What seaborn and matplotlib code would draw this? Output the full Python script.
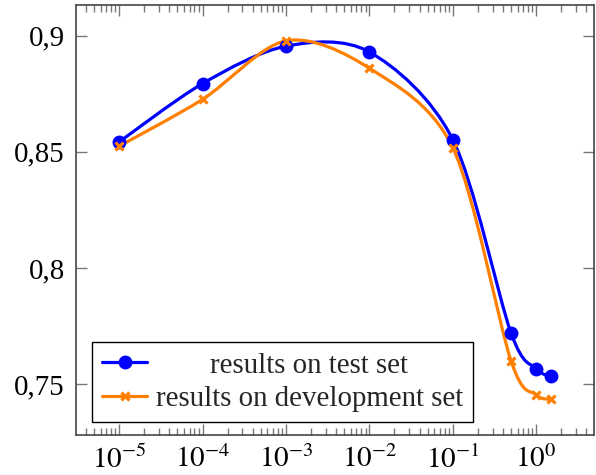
import numpy as np
import matplotlib
matplotlib.use("Agg")
import matplotlib.pyplot as plt
from matplotlib.path import Path
from matplotlib.patches import PathPatch
from matplotlib.lines import Line2D
from matplotlib.ticker import FixedLocator, FixedFormatter, LogLocator, NullFormatter
import seaborn as sns

# data
lam = [1e-5, 1e-4, 1e-3, 1e-2, 1e-1, 0.5, 1.0, 1.5]
test_acc = [0.8542, 0.8794, 0.8955, 0.8930, 0.8553, 0.7720, 0.7566, 0.7533]
dev_acc = [0.8525, 0.8726, 0.8978, 0.8860, 0.8518, 0.7600, 0.7454, 0.7435]
series_names = ["results on test set", "results on development set"]

ytick_vals = [0.75, 0.8, 0.85, 0.9]
ytick_labels = ["0,75", "0,8", "0,85", "0,9"]
xtick_vals = [1e-5, 1e-4, 1e-3, 1e-2, 1e-1, 1e0]
xtick_labels = [r"$10^{-5}$", r"$10^{-4}$", r"$10^{-3}$", r"$10^{-2}$", r"$10^{-1}$", r"$10^{0}$"]

BLUE = "#0000ff"
ORANGE = "#ff8000"
FS = 20.8

sns.set_theme(style="ticks")
plt.rcParams["font.family"] = ["Liberation Serif", "DejaVu Serif"]
plt.rcParams["mathtext.fontset"] = "stix"

fig = plt.figure(figsize=(5.96, 4.75), dpi=100)
ax = fig.add_axes([76 / 596, 40 / 475, 518 / 596, 430 / 475])
ax.set_xscale("log")


def enlarged(lo, hi, frac=0.1):
    r = hi - lo
    return lo - frac * r, hi + frac * r


lx0, lx1 = enlarged(np.log10(min(lam)), np.log10(max(lam)))
ax.set_xlim(10 ** lx0, 10 ** lx1)
allv = test_acc + dev_acc
ax.set_ylim(*enlarged(min(allv), max(allv)))


def smooth_path(xs, ys, tension=0.55):
    # pgf/tikz "smooth" curveto handler, built in display space
    t = 0.2775 * tension
    p = ax.transData.transform(np.column_stack([xs, ys]))
    n = len(p)
    verts = [p[0]]
    codes = [Path.MOVETO]
    c1 = p[0]
    for i in range(1, n - 1):
        d = t * (p[i + 1] - p[i - 1])
        verts += [c1, p[i] - d, p[i]]
        codes += [Path.CURVE4] * 3
        c1 = p[i] + d
    verts += [c1, p[-1], p[-1]]
    codes += [Path.CURVE4] * 3
    v = ax.transData.inverted().transform(np.array(verts))
    return Path(v, codes)


styles = [
    dict(color=BLUE, marker="o", ms=10, mew=0, data=test_acc),
    dict(color=ORANGE, marker="x", ms=5.8, mew=2.3, data=dev_acc),
]
handles = []
for st, name in zip(styles, series_names):
    ax.add_patch(PathPatch(smooth_path(lam, st["data"]), fill=False,
                           edgecolor=st["color"], lw=2.3, zorder=3))
    sns.lineplot(x=lam, y=st["data"], ax=ax, linestyle="none", marker=st["marker"],
                 markersize=st["ms"], markeredgewidth=st["mew"], color=st["color"],
                 markeredgecolor=st["color"], zorder=4, legend=False)
    handles.append(Line2D([], [], color=st["color"], lw=2.3, marker=st["marker"],
                          markersize=st["ms"], markeredgewidth=st["mew"],
                          markeredgecolor=st["color"], label=name))

ax.xaxis.set_major_locator(FixedLocator(xtick_vals))
ax.xaxis.set_major_formatter(FixedFormatter(xtick_labels))
ax.xaxis.set_minor_locator(LogLocator(base=10, subs=np.arange(2, 10), numticks=20))
ax.xaxis.set_minor_formatter(NullFormatter())
ax.yaxis.set_major_locator(FixedLocator(ytick_vals))
ax.yaxis.set_major_formatter(FixedFormatter(ytick_labels))

ax.tick_params(which="both", direction="in", top=True, right=True,
               color="#777777", width=1.0, labelsize=FS, labelcolor="black")
ax.tick_params(which="major", length=7.7)
ax.tick_params(which="minor", length=5.0)
ax.tick_params(axis="x", which="major", pad=7.5, labelsize=21)
ax.tick_params(axis="y", which="major", pad=8)
for sp in ax.spines.values():
    sp.set_color("#444444")
    sp.set_linewidth(1.2)

leg = ax.legend(handles=handles, loc="lower left", bbox_to_anchor=(0.031, 0.030),
                borderaxespad=0, fontsize=FS, frameon=True, fancybox=False,
                edgecolor="black", framealpha=1, handlelength=1.55,
                handletextpad=0.3, labelspacing=0.25, borderpad=0.35)
leg.get_frame().set_linewidth(1.0)

# centre the legend entries like pgfplots does
fig.canvas.draw()
r = fig.canvas.get_renderer()
texts = leg.get_texts()
widths = [t.get_window_extent(r).width for t in texts]
wmax = max(widths)
for t, w in zip(texts, widths):
    t.set_position(((wmax - w) / 2, 0))

fig.savefig("out.png", dpi=100)
